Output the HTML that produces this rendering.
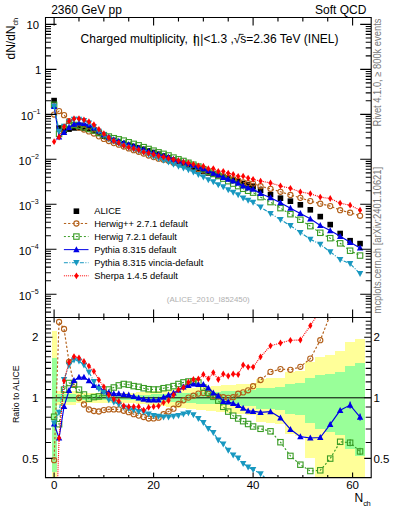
<!DOCTYPE html><html><head><meta charset="utf-8"><style>html,body{margin:0;padding:0;background:#fff;}svg{display:block;}text{font-family:"Liberation Sans",sans-serif;}</style></head><body>
<svg width="393" height="512" viewBox="0 0 393 512">
<rect x="0" y="0" width="393" height="512" fill="#fff"/>
<defs><clipPath id="cm"><rect x="45.5" y="17.5" width="325.7" height="300"/></clipPath>
<clipPath id="cr"><rect x="45.5" y="317.5" width="325.7" height="160.1"/></clipPath></defs>
<g clip-path="url(#cr)" shape-rendering="crispEdges">
<rect x="51.61" y="331.28" width="4.97" height="268.72" fill="#ffff99"/>
<rect x="56.59" y="390.75" width="4.98" height="14.72" fill="#ffff99"/>
<rect x="61.56" y="390.75" width="4.97" height="14.72" fill="#ffff99"/>
<rect x="66.54" y="390.75" width="4.98" height="14.72" fill="#ffff99"/>
<rect x="71.51" y="390.75" width="4.97" height="14.72" fill="#ffff99"/>
<rect x="76.49" y="393.04" width="4.98" height="9.8" fill="#ffff99"/>
<rect x="81.46" y="393.04" width="4.97" height="9.8" fill="#ffff99"/>
<rect x="86.44" y="393.04" width="4.97" height="9.8" fill="#ffff99"/>
<rect x="91.41" y="393.04" width="4.97" height="9.8" fill="#ffff99"/>
<rect x="96.39" y="393.04" width="4.98" height="9.8" fill="#ffff99"/>
<rect x="101.36" y="393.04" width="4.98" height="9.8" fill="#ffff99"/>
<rect x="106.34" y="393.04" width="4.97" height="9.8" fill="#ffff99"/>
<rect x="111.31" y="393.04" width="4.97" height="9.8" fill="#ffff99"/>
<rect x="116.29" y="393.04" width="4.97" height="9.8" fill="#ffff99"/>
<rect x="121.26" y="393.04" width="4.97" height="9.8" fill="#ffff99"/>
<rect x="126.24" y="393.04" width="4.98" height="9.8" fill="#ffff99"/>
<rect x="131.21" y="393.04" width="4.97" height="9.8" fill="#ffff99"/>
<rect x="136.19" y="392.28" width="4.97" height="11.42" fill="#ffff99"/>
<rect x="141.16" y="391.85" width="4.97" height="12.34" fill="#ffff99"/>
<rect x="146.14" y="391.42" width="4.97" height="13.26" fill="#ffff99"/>
<rect x="151.11" y="391" width="4.98" height="14.18" fill="#ffff99"/>
<rect x="156.09" y="390.57" width="4.97" height="15.1" fill="#ffff99"/>
<rect x="161.06" y="390.15" width="4.97" height="16.02" fill="#ffff99"/>
<rect x="166.04" y="389.74" width="4.97" height="16.95" fill="#ffff99"/>
<rect x="171.01" y="389.32" width="4.97" height="17.87" fill="#ffff99"/>
<rect x="175.99" y="388.91" width="4.98" height="18.79" fill="#ffff99"/>
<rect x="180.96" y="388.49" width="4.97" height="19.72" fill="#ffff99"/>
<rect x="185.94" y="388.08" width="4.98" height="20.65" fill="#ffff99"/>
<rect x="190.91" y="387.68" width="4.97" height="21.58" fill="#ffff99"/>
<rect x="195.89" y="387.27" width="4.97" height="22.5" fill="#ffff99"/>
<rect x="200.86" y="386.9" width="4.97" height="23.35" fill="#ffff99"/>
<rect x="205.84" y="386.54" width="4.97" height="24.19" fill="#ffff99"/>
<rect x="210.81" y="386.18" width="4.98" height="25.03" fill="#ffff99"/>
<rect x="215.79" y="385.82" width="4.97" height="25.87" fill="#ffff99"/>
<rect x="220.76" y="385.46" width="4.97" height="26.72" fill="#ffff99"/>
<rect x="225.74" y="385.1" width="4.97" height="27.57" fill="#ffff99"/>
<rect x="230.71" y="384.74" width="4.97" height="28.42" fill="#ffff99"/>
<rect x="235.69" y="384.39" width="4.98" height="29.26" fill="#ffff99"/>
<rect x="240.66" y="384.03" width="4.97" height="30.11" fill="#ffff99"/>
<rect x="245.64" y="383.68" width="4.97" height="30.97" fill="#ffff99"/>
<rect x="250.61" y="383.33" width="4.97" height="31.82" fill="#ffff99"/>
<rect x="255.59" y="378.99" width="9.95" height="42.8" fill="#ffff99"/>
<rect x="265.54" y="378.29" width="9.95" height="44.66" fill="#ffff99"/>
<rect x="275.49" y="377.59" width="9.95" height="46.53" fill="#ffff99"/>
<rect x="285.44" y="372.47" width="9.95" height="61.13" fill="#ffff99"/>
<rect x="295.39" y="371.17" width="9.95" height="65.1" fill="#ffff99"/>
<rect x="305.34" y="362.35" width="9.95" height="96.05" fill="#ffff99"/>
<rect x="315.29" y="356.71" width="9.95" height="121.2" fill="#ffff99"/>
<rect x="325.24" y="354.55" width="9.95" height="132.57" fill="#ffff99"/>
<rect x="335.19" y="351.41" width="9.95" height="151.65" fill="#ffff99"/>
<rect x="345.14" y="342.15" width="9.95" height="248.63" fill="#ffff99"/>
<rect x="355.09" y="338.52" width="9.95" height="365.85" fill="#ffff99"/>
<rect x="51.61" y="358.36" width="4.97" height="113.22" fill="#99ff99"/>
<rect x="56.59" y="394.2" width="4.98" height="7.35" fill="#99ff99"/>
<rect x="61.56" y="394.2" width="4.97" height="7.35" fill="#99ff99"/>
<rect x="66.54" y="394.2" width="4.98" height="7.35" fill="#99ff99"/>
<rect x="71.51" y="394.2" width="4.97" height="7.35" fill="#99ff99"/>
<rect x="76.49" y="395.39" width="4.98" height="4.9" fill="#99ff99"/>
<rect x="81.46" y="395.39" width="4.97" height="4.9" fill="#99ff99"/>
<rect x="86.44" y="395.39" width="4.97" height="4.9" fill="#99ff99"/>
<rect x="91.41" y="395.39" width="4.97" height="4.9" fill="#99ff99"/>
<rect x="96.39" y="395.39" width="4.98" height="4.9" fill="#99ff99"/>
<rect x="101.36" y="395.39" width="4.98" height="4.9" fill="#99ff99"/>
<rect x="106.34" y="395.39" width="4.97" height="4.9" fill="#99ff99"/>
<rect x="111.31" y="395.39" width="4.97" height="4.9" fill="#99ff99"/>
<rect x="116.29" y="395.39" width="4.97" height="4.9" fill="#99ff99"/>
<rect x="121.26" y="395.39" width="4.97" height="4.9" fill="#99ff99"/>
<rect x="126.24" y="395.39" width="4.98" height="4.9" fill="#99ff99"/>
<rect x="131.21" y="395.39" width="4.97" height="4.9" fill="#99ff99"/>
<rect x="136.19" y="394.99" width="4.97" height="5.7" fill="#99ff99"/>
<rect x="141.16" y="394.77" width="4.97" height="6.16" fill="#99ff99"/>
<rect x="146.14" y="394.55" width="4.97" height="6.62" fill="#99ff99"/>
<rect x="151.11" y="394.33" width="4.98" height="7.08" fill="#99ff99"/>
<rect x="156.09" y="394.11" width="4.97" height="7.54" fill="#99ff99"/>
<rect x="161.06" y="393.89" width="4.97" height="8" fill="#99ff99"/>
<rect x="166.04" y="393.68" width="4.97" height="8.45" fill="#99ff99"/>
<rect x="171.01" y="393.46" width="4.97" height="8.91" fill="#99ff99"/>
<rect x="175.99" y="393.24" width="4.98" height="9.37" fill="#99ff99"/>
<rect x="180.96" y="393.02" width="4.97" height="9.83" fill="#99ff99"/>
<rect x="185.94" y="392.81" width="4.98" height="10.29" fill="#99ff99"/>
<rect x="190.91" y="392.59" width="4.97" height="10.75" fill="#99ff99"/>
<rect x="195.89" y="392.38" width="4.97" height="11.21" fill="#99ff99"/>
<rect x="200.86" y="392.18" width="4.97" height="11.62" fill="#99ff99"/>
<rect x="205.84" y="391.99" width="4.97" height="12.04" fill="#99ff99"/>
<rect x="210.81" y="391.8" width="4.98" height="12.45" fill="#99ff99"/>
<rect x="215.79" y="391.6" width="4.97" height="12.87" fill="#99ff99"/>
<rect x="220.76" y="391.41" width="4.97" height="13.28" fill="#99ff99"/>
<rect x="225.74" y="391.22" width="4.97" height="13.7" fill="#99ff99"/>
<rect x="230.71" y="391.03" width="4.97" height="14.11" fill="#99ff99"/>
<rect x="235.69" y="390.84" width="4.98" height="14.53" fill="#99ff99"/>
<rect x="240.66" y="390.65" width="4.97" height="14.95" fill="#99ff99"/>
<rect x="245.64" y="390.46" width="4.97" height="15.36" fill="#99ff99"/>
<rect x="250.61" y="390.27" width="4.97" height="15.78" fill="#99ff99"/>
<rect x="255.59" y="387.89" width="9.95" height="21.08" fill="#99ff99"/>
<rect x="265.54" y="387.5" width="9.95" height="21.97" fill="#99ff99"/>
<rect x="275.49" y="387.11" width="9.95" height="22.86" fill="#99ff99"/>
<rect x="285.44" y="384.22" width="9.95" height="29.66" fill="#99ff99"/>
<rect x="295.39" y="383.48" width="9.95" height="31.46" fill="#99ff99"/>
<rect x="305.34" y="378.29" width="9.95" height="44.66" fill="#99ff99"/>
<rect x="315.29" y="374.86" width="9.95" height="54.12" fill="#99ff99"/>
<rect x="325.24" y="373.53" width="9.95" height="57.99" fill="#99ff99"/>
<rect x="335.19" y="371.56" width="9.95" height="63.9" fill="#99ff99"/>
<rect x="345.14" y="365.62" width="9.95" height="83.66" fill="#99ff99"/>
<rect x="355.09" y="363.23" width="9.95" height="92.59" fill="#99ff99"/>
</g>
<line x1="45.5" y1="397.8" x2="371.2" y2="397.8" stroke="#000" stroke-width="1"/>
<g clip-path="url(#cm)">
<rect x="51.3" y="97.8" width="5.6" height="5.6" fill="#000"/>
<rect x="56.28" y="125.2" width="5.6" height="5.6" fill="#000"/>
<rect x="61.25" y="127.7" width="5.6" height="5.6" fill="#000"/>
<rect x="66.23" y="126.3" width="5.6" height="5.6" fill="#000"/>
<rect x="71.2" y="125.1" width="5.6" height="5.6" fill="#000"/>
<rect x="76.17" y="124.8" width="5.6" height="5.6" fill="#000"/>
<rect x="81.15" y="125.2" width="5.6" height="5.6" fill="#000"/>
<rect x="86.12" y="126" width="5.6" height="5.6" fill="#000"/>
<rect x="91.1" y="127.8" width="5.6" height="5.6" fill="#000"/>
<rect x="96.08" y="130.5" width="5.6" height="5.6" fill="#000"/>
<rect x="101.05" y="133.4" width="5.6" height="5.6" fill="#000"/>
<rect x="106.02" y="135.6" width="5.6" height="5.6" fill="#000"/>
<rect x="111" y="137.7" width="5.6" height="5.6" fill="#000"/>
<rect x="115.98" y="139.3" width="5.6" height="5.6" fill="#000"/>
<rect x="120.95" y="140.9" width="5.6" height="5.6" fill="#000"/>
<rect x="125.92" y="142.4" width="5.6" height="5.6" fill="#000"/>
<rect x="130.9" y="143.7" width="5.6" height="5.6" fill="#000"/>
<rect x="135.87" y="145" width="5.6" height="5.6" fill="#000"/>
<rect x="140.85" y="146.5" width="5.6" height="5.6" fill="#000"/>
<rect x="145.82" y="148.1" width="5.6" height="5.6" fill="#000"/>
<rect x="150.8" y="149.7" width="5.6" height="5.6" fill="#000"/>
<rect x="155.77" y="151.4" width="5.6" height="5.6" fill="#000"/>
<rect x="160.75" y="153.2" width="5.6" height="5.6" fill="#000"/>
<rect x="165.72" y="155" width="5.6" height="5.6" fill="#000"/>
<rect x="170.7" y="157.4" width="5.6" height="5.6" fill="#000"/>
<rect x="175.67" y="159.6" width="5.6" height="5.6" fill="#000"/>
<rect x="180.65" y="161.6" width="5.6" height="5.6" fill="#000"/>
<rect x="185.62" y="163.6" width="5.6" height="5.6" fill="#000"/>
<rect x="190.6" y="165.6" width="5.6" height="5.6" fill="#000"/>
<rect x="195.57" y="167.2" width="5.6" height="5.6" fill="#000"/>
<rect x="200.55" y="168.7" width="5.6" height="5.6" fill="#000"/>
<rect x="205.52" y="170.1" width="5.6" height="5.6" fill="#000"/>
<rect x="210.5" y="171.4" width="5.6" height="5.6" fill="#000"/>
<rect x="215.47" y="172.6" width="5.6" height="5.6" fill="#000"/>
<rect x="220.45" y="173.8" width="5.6" height="5.6" fill="#000"/>
<rect x="225.42" y="175.3" width="5.6" height="5.6" fill="#000"/>
<rect x="230.4" y="176.8" width="5.6" height="5.6" fill="#000"/>
<rect x="235.37" y="178.7" width="5.6" height="5.6" fill="#000"/>
<rect x="240.35" y="180.7" width="5.6" height="5.6" fill="#000"/>
<rect x="245.32" y="182.1" width="5.6" height="5.6" fill="#000"/>
<rect x="250.3" y="183.4" width="5.6" height="5.6" fill="#000"/>
<rect x="257.76" y="187.4" width="5.6" height="5.6" fill="#000"/>
<rect x="267.71" y="191.8" width="5.6" height="5.6" fill="#000"/>
<rect x="277.66" y="195.4" width="5.6" height="5.6" fill="#000"/>
<rect x="287.61" y="198.4" width="5.6" height="5.6" fill="#000"/>
<rect x="297.56" y="202" width="5.6" height="5.6" fill="#000"/>
<rect x="307.51" y="207" width="5.6" height="5.6" fill="#000"/>
<rect x="317.46" y="213.8" width="5.6" height="5.6" fill="#000"/>
<rect x="327.41" y="221.8" width="5.6" height="5.6" fill="#000"/>
<rect x="337.36" y="230.7" width="5.6" height="5.6" fill="#000"/>
<rect x="347.31" y="237.9" width="5.6" height="5.6" fill="#000"/>
<rect x="357.26" y="240.8" width="5.6" height="5.6" fill="#000"/>
</g>
<polyline points="54.1,114.54 59.08,111.07 64.05,115.13 69.03,121.1 74,124.82 78.97,127.64 83.95,129.5 88.92,131.41 93.9,133.55 98.88,136.36 103.85,138.95 108.82,140.99 113.8,143.09 118.78,144.69 123.75,146.6 128.72,148.42 133.7,150.16 138.67,151.78 143.65,153.59 148.62,155.52 153.6,157.1 158.57,158.65 163.55,159.66 168.53,160.86 173.5,162.63 178.47,163.79 183.45,164.96 188.42,166.36 193.4,167.93 198.37,169.06 203.35,170.43 208.32,172.01 213.3,173.75 218.27,175.11 223.25,176.47 228.22,178.12 233.2,179.47 238.17,180.58 243.15,182.29 248.12,183.22 253.1,183.61 260.56,186.22 270.51,188.81 280.46,191.79 290.41,194.95 300.36,197.87 310.31,201.04 320.26,203.73 330.21,206.1 340.16,210.2 350.11,212.7 360.06,215.8" fill="none" stroke="#b3601a" stroke-width="1.15" stroke-dasharray="2.3,1.9" clip-path="url(#cm)"/>
<g clip-path="url(#cm)">
<circle cx="54.1" cy="114.54" r="2.6" fill="none" stroke="#b3601a" stroke-width="1.1"/>
<circle cx="59.08" cy="111.07" r="2.6" fill="none" stroke="#b3601a" stroke-width="1.1"/>
<circle cx="64.05" cy="115.13" r="2.6" fill="none" stroke="#b3601a" stroke-width="1.1"/>
<circle cx="69.03" cy="121.1" r="2.6" fill="none" stroke="#b3601a" stroke-width="1.1"/>
<circle cx="74" cy="124.82" r="2.6" fill="none" stroke="#b3601a" stroke-width="1.1"/>
<circle cx="78.97" cy="127.64" r="2.6" fill="none" stroke="#b3601a" stroke-width="1.1"/>
<circle cx="83.95" cy="129.5" r="2.6" fill="none" stroke="#b3601a" stroke-width="1.1"/>
<circle cx="88.92" cy="131.41" r="2.6" fill="none" stroke="#b3601a" stroke-width="1.1"/>
<circle cx="93.9" cy="133.55" r="2.6" fill="none" stroke="#b3601a" stroke-width="1.1"/>
<circle cx="98.88" cy="136.36" r="2.6" fill="none" stroke="#b3601a" stroke-width="1.1"/>
<circle cx="103.85" cy="138.95" r="2.6" fill="none" stroke="#b3601a" stroke-width="1.1"/>
<circle cx="108.82" cy="140.99" r="2.6" fill="none" stroke="#b3601a" stroke-width="1.1"/>
<circle cx="113.8" cy="143.09" r="2.6" fill="none" stroke="#b3601a" stroke-width="1.1"/>
<circle cx="118.78" cy="144.69" r="2.6" fill="none" stroke="#b3601a" stroke-width="1.1"/>
<circle cx="123.75" cy="146.6" r="2.6" fill="none" stroke="#b3601a" stroke-width="1.1"/>
<circle cx="128.72" cy="148.42" r="2.6" fill="none" stroke="#b3601a" stroke-width="1.1"/>
<circle cx="133.7" cy="150.16" r="2.6" fill="none" stroke="#b3601a" stroke-width="1.1"/>
<circle cx="138.67" cy="151.78" r="2.6" fill="none" stroke="#b3601a" stroke-width="1.1"/>
<circle cx="143.65" cy="153.59" r="2.6" fill="none" stroke="#b3601a" stroke-width="1.1"/>
<circle cx="148.62" cy="155.52" r="2.6" fill="none" stroke="#b3601a" stroke-width="1.1"/>
<circle cx="153.6" cy="157.1" r="2.6" fill="none" stroke="#b3601a" stroke-width="1.1"/>
<circle cx="158.57" cy="158.65" r="2.6" fill="none" stroke="#b3601a" stroke-width="1.1"/>
<circle cx="163.55" cy="159.66" r="2.6" fill="none" stroke="#b3601a" stroke-width="1.1"/>
<circle cx="168.53" cy="160.86" r="2.6" fill="none" stroke="#b3601a" stroke-width="1.1"/>
<circle cx="173.5" cy="162.63" r="2.6" fill="none" stroke="#b3601a" stroke-width="1.1"/>
<circle cx="178.47" cy="163.79" r="2.6" fill="none" stroke="#b3601a" stroke-width="1.1"/>
<circle cx="183.45" cy="164.96" r="2.6" fill="none" stroke="#b3601a" stroke-width="1.1"/>
<circle cx="188.42" cy="166.36" r="2.6" fill="none" stroke="#b3601a" stroke-width="1.1"/>
<circle cx="193.4" cy="167.93" r="2.6" fill="none" stroke="#b3601a" stroke-width="1.1"/>
<circle cx="198.37" cy="169.06" r="2.6" fill="none" stroke="#b3601a" stroke-width="1.1"/>
<circle cx="203.35" cy="170.43" r="2.6" fill="none" stroke="#b3601a" stroke-width="1.1"/>
<circle cx="208.32" cy="172.01" r="2.6" fill="none" stroke="#b3601a" stroke-width="1.1"/>
<circle cx="213.3" cy="173.75" r="2.6" fill="none" stroke="#b3601a" stroke-width="1.1"/>
<circle cx="218.27" cy="175.11" r="2.6" fill="none" stroke="#b3601a" stroke-width="1.1"/>
<circle cx="223.25" cy="176.47" r="2.6" fill="none" stroke="#b3601a" stroke-width="1.1"/>
<circle cx="228.22" cy="178.12" r="2.6" fill="none" stroke="#b3601a" stroke-width="1.1"/>
<circle cx="233.2" cy="179.47" r="2.6" fill="none" stroke="#b3601a" stroke-width="1.1"/>
<circle cx="238.17" cy="180.58" r="2.6" fill="none" stroke="#b3601a" stroke-width="1.1"/>
<circle cx="243.15" cy="182.29" r="2.6" fill="none" stroke="#b3601a" stroke-width="1.1"/>
<circle cx="248.12" cy="183.22" r="2.6" fill="none" stroke="#b3601a" stroke-width="1.1"/>
<circle cx="253.1" cy="183.61" r="2.6" fill="none" stroke="#b3601a" stroke-width="1.1"/>
<circle cx="260.56" cy="186.22" r="2.6" fill="none" stroke="#b3601a" stroke-width="1.1"/>
<circle cx="270.51" cy="188.81" r="2.6" fill="none" stroke="#b3601a" stroke-width="1.1"/>
<circle cx="280.46" cy="191.79" r="2.6" fill="none" stroke="#b3601a" stroke-width="1.1"/>
<circle cx="290.41" cy="194.95" r="2.6" fill="none" stroke="#b3601a" stroke-width="1.1"/>
<circle cx="300.36" cy="197.87" r="2.6" fill="none" stroke="#b3601a" stroke-width="1.1"/>
<circle cx="310.31" cy="201.04" r="2.6" fill="none" stroke="#b3601a" stroke-width="1.1"/>
<circle cx="320.26" cy="203.73" r="2.6" fill="none" stroke="#b3601a" stroke-width="1.1"/>
<circle cx="330.21" cy="206.1" r="2.6" fill="none" stroke="#b3601a" stroke-width="1.1"/>
<circle cx="340.16" cy="210.2" r="2.6" fill="none" stroke="#b3601a" stroke-width="1.1"/>
<circle cx="350.11" cy="212.7" r="2.6" fill="none" stroke="#b3601a" stroke-width="1.1"/>
<circle cx="360.06" cy="215.8" r="2.6" fill="none" stroke="#b3601a" stroke-width="1.1"/>
</g>
<polyline points="54.1,104.82 59.08,133.9 64.05,128.67 69.03,125.79 74,124.97 78.97,125.77 83.95,127.26 88.92,128.98 93.9,130.44 98.88,132.99 103.85,135.13 108.82,136.55 113.8,138.2 118.78,139.33 123.75,140.62 128.72,142.27 133.7,143.89 138.67,145.34 143.65,147.16 148.62,148.98 153.6,150.65 158.57,152.35 163.55,153.86 168.53,155.5 173.5,157.59 178.47,159.32 183.45,160.96 188.42,162.76 193.4,164.69 198.37,166.58 203.35,169.2 208.32,171.78 213.3,173.98 218.27,176.03 223.25,178.61 228.22,181.18 233.2,183.6 238.17,186.12 243.15,188.73 248.12,190.75 253.1,192.61 260.56,197.13 270.51,202.08 280.46,208.12 290.41,214.18 300.36,219.74 310.31,226.15 320.26,232.8 330.21,238.18 340.16,243.33 350.11,250.73 360.06,255.57" fill="none" stroke="#3a9c26" stroke-width="1.15" stroke-dasharray="2,2" clip-path="url(#cm)"/>
<g clip-path="url(#cm)">
<rect x="51.4" y="102.12" width="5.4" height="5.4" fill="none" stroke="#3a9c26" stroke-width="1.1"/>
<rect x="56.38" y="131.2" width="5.4" height="5.4" fill="none" stroke="#3a9c26" stroke-width="1.1"/>
<rect x="61.35" y="125.97" width="5.4" height="5.4" fill="none" stroke="#3a9c26" stroke-width="1.1"/>
<rect x="66.33" y="123.09" width="5.4" height="5.4" fill="none" stroke="#3a9c26" stroke-width="1.1"/>
<rect x="71.3" y="122.27" width="5.4" height="5.4" fill="none" stroke="#3a9c26" stroke-width="1.1"/>
<rect x="76.27" y="123.07" width="5.4" height="5.4" fill="none" stroke="#3a9c26" stroke-width="1.1"/>
<rect x="81.25" y="124.56" width="5.4" height="5.4" fill="none" stroke="#3a9c26" stroke-width="1.1"/>
<rect x="86.22" y="126.28" width="5.4" height="5.4" fill="none" stroke="#3a9c26" stroke-width="1.1"/>
<rect x="91.2" y="127.74" width="5.4" height="5.4" fill="none" stroke="#3a9c26" stroke-width="1.1"/>
<rect x="96.17" y="130.29" width="5.4" height="5.4" fill="none" stroke="#3a9c26" stroke-width="1.1"/>
<rect x="101.15" y="132.43" width="5.4" height="5.4" fill="none" stroke="#3a9c26" stroke-width="1.1"/>
<rect x="106.12" y="133.85" width="5.4" height="5.4" fill="none" stroke="#3a9c26" stroke-width="1.1"/>
<rect x="111.1" y="135.5" width="5.4" height="5.4" fill="none" stroke="#3a9c26" stroke-width="1.1"/>
<rect x="116.08" y="136.63" width="5.4" height="5.4" fill="none" stroke="#3a9c26" stroke-width="1.1"/>
<rect x="121.05" y="137.92" width="5.4" height="5.4" fill="none" stroke="#3a9c26" stroke-width="1.1"/>
<rect x="126.02" y="139.57" width="5.4" height="5.4" fill="none" stroke="#3a9c26" stroke-width="1.1"/>
<rect x="131" y="141.19" width="5.4" height="5.4" fill="none" stroke="#3a9c26" stroke-width="1.1"/>
<rect x="135.97" y="142.64" width="5.4" height="5.4" fill="none" stroke="#3a9c26" stroke-width="1.1"/>
<rect x="140.95" y="144.46" width="5.4" height="5.4" fill="none" stroke="#3a9c26" stroke-width="1.1"/>
<rect x="145.93" y="146.28" width="5.4" height="5.4" fill="none" stroke="#3a9c26" stroke-width="1.1"/>
<rect x="150.9" y="147.95" width="5.4" height="5.4" fill="none" stroke="#3a9c26" stroke-width="1.1"/>
<rect x="155.88" y="149.65" width="5.4" height="5.4" fill="none" stroke="#3a9c26" stroke-width="1.1"/>
<rect x="160.85" y="151.16" width="5.4" height="5.4" fill="none" stroke="#3a9c26" stroke-width="1.1"/>
<rect x="165.83" y="152.8" width="5.4" height="5.4" fill="none" stroke="#3a9c26" stroke-width="1.1"/>
<rect x="170.8" y="154.89" width="5.4" height="5.4" fill="none" stroke="#3a9c26" stroke-width="1.1"/>
<rect x="175.78" y="156.62" width="5.4" height="5.4" fill="none" stroke="#3a9c26" stroke-width="1.1"/>
<rect x="180.75" y="158.26" width="5.4" height="5.4" fill="none" stroke="#3a9c26" stroke-width="1.1"/>
<rect x="185.72" y="160.06" width="5.4" height="5.4" fill="none" stroke="#3a9c26" stroke-width="1.1"/>
<rect x="190.7" y="161.99" width="5.4" height="5.4" fill="none" stroke="#3a9c26" stroke-width="1.1"/>
<rect x="195.67" y="163.88" width="5.4" height="5.4" fill="none" stroke="#3a9c26" stroke-width="1.1"/>
<rect x="200.65" y="166.5" width="5.4" height="5.4" fill="none" stroke="#3a9c26" stroke-width="1.1"/>
<rect x="205.62" y="169.08" width="5.4" height="5.4" fill="none" stroke="#3a9c26" stroke-width="1.1"/>
<rect x="210.6" y="171.28" width="5.4" height="5.4" fill="none" stroke="#3a9c26" stroke-width="1.1"/>
<rect x="215.57" y="173.33" width="5.4" height="5.4" fill="none" stroke="#3a9c26" stroke-width="1.1"/>
<rect x="220.55" y="175.91" width="5.4" height="5.4" fill="none" stroke="#3a9c26" stroke-width="1.1"/>
<rect x="225.53" y="178.48" width="5.4" height="5.4" fill="none" stroke="#3a9c26" stroke-width="1.1"/>
<rect x="230.5" y="180.9" width="5.4" height="5.4" fill="none" stroke="#3a9c26" stroke-width="1.1"/>
<rect x="235.47" y="183.42" width="5.4" height="5.4" fill="none" stroke="#3a9c26" stroke-width="1.1"/>
<rect x="240.45" y="186.03" width="5.4" height="5.4" fill="none" stroke="#3a9c26" stroke-width="1.1"/>
<rect x="245.42" y="188.05" width="5.4" height="5.4" fill="none" stroke="#3a9c26" stroke-width="1.1"/>
<rect x="250.4" y="189.91" width="5.4" height="5.4" fill="none" stroke="#3a9c26" stroke-width="1.1"/>
<rect x="257.86" y="194.43" width="5.4" height="5.4" fill="none" stroke="#3a9c26" stroke-width="1.1"/>
<rect x="267.81" y="199.38" width="5.4" height="5.4" fill="none" stroke="#3a9c26" stroke-width="1.1"/>
<rect x="277.76" y="205.42" width="5.4" height="5.4" fill="none" stroke="#3a9c26" stroke-width="1.1"/>
<rect x="287.71" y="211.48" width="5.4" height="5.4" fill="none" stroke="#3a9c26" stroke-width="1.1"/>
<rect x="297.66" y="217.04" width="5.4" height="5.4" fill="none" stroke="#3a9c26" stroke-width="1.1"/>
<rect x="307.61" y="223.45" width="5.4" height="5.4" fill="none" stroke="#3a9c26" stroke-width="1.1"/>
<rect x="317.56" y="230.1" width="5.4" height="5.4" fill="none" stroke="#3a9c26" stroke-width="1.1"/>
<rect x="327.51" y="235.48" width="5.4" height="5.4" fill="none" stroke="#3a9c26" stroke-width="1.1"/>
<rect x="337.46" y="240.63" width="5.4" height="5.4" fill="none" stroke="#3a9c26" stroke-width="1.1"/>
<rect x="347.41" y="248.03" width="5.4" height="5.4" fill="none" stroke="#3a9c26" stroke-width="1.1"/>
<rect x="357.36" y="252.87" width="5.4" height="5.4" fill="none" stroke="#3a9c26" stroke-width="1.1"/>
</g>
<polyline points="54.1,106.45 59.08,136.98 64.05,132.44 69.03,127.47 74,124.04 78.97,123 83.95,123.4 88.92,124.96 93.9,127.83 98.88,130.84 103.85,134.68 108.82,137.17 113.8,139.58 118.78,141.18 123.75,142.92 128.72,144.57 133.7,146.19 138.67,147.8 143.65,149.59 148.62,151.35 153.6,152.95 158.57,154.65 163.55,155.84 168.53,157.17 173.5,159.13 178.47,160.7 183.45,161.97 188.42,163.63 193.4,165.27 198.37,166.98 203.35,168.53 208.32,170.71 213.3,173.08 218.27,174.95 223.25,177.38 228.22,179.04 233.2,180.85 238.17,183.2 243.15,185.82 248.12,187.83 253.1,189.22 260.56,193.44 270.51,197.68 280.46,202.67 290.41,208.24 300.36,213.47 310.31,218.78 320.26,225.47 330.21,230.54 340.16,236.29 350.11,242.33 360.06,247.91" fill="none" stroke="#0000e6" stroke-width="1.15" clip-path="url(#cm)"/>
<g clip-path="url(#cm)">
<path d="M54.1 103.05L57.3 109.05L50.9 109.05Z" fill="#0000e6"/>
<path d="M59.08 133.58L62.28 139.58L55.88 139.58Z" fill="#0000e6"/>
<path d="M64.05 129.04L67.25 135.04L60.85 135.04Z" fill="#0000e6"/>
<path d="M69.03 124.07L72.23 130.07L65.83 130.07Z" fill="#0000e6"/>
<path d="M74 120.64L77.2 126.64L70.8 126.64Z" fill="#0000e6"/>
<path d="M78.97 119.6L82.17 125.6L75.77 125.6Z" fill="#0000e6"/>
<path d="M83.95 120L87.15 126L80.75 126Z" fill="#0000e6"/>
<path d="M88.92 121.56L92.12 127.56L85.72 127.56Z" fill="#0000e6"/>
<path d="M93.9 124.43L97.1 130.43L90.7 130.43Z" fill="#0000e6"/>
<path d="M98.88 127.44L102.08 133.44L95.67 133.44Z" fill="#0000e6"/>
<path d="M103.85 131.28L107.05 137.28L100.65 137.28Z" fill="#0000e6"/>
<path d="M108.82 133.77L112.02 139.77L105.62 139.77Z" fill="#0000e6"/>
<path d="M113.8 136.18L117 142.18L110.6 142.18Z" fill="#0000e6"/>
<path d="M118.78 137.78L121.98 143.78L115.58 143.78Z" fill="#0000e6"/>
<path d="M123.75 139.52L126.95 145.52L120.55 145.52Z" fill="#0000e6"/>
<path d="M128.72 141.17L131.92 147.17L125.52 147.17Z" fill="#0000e6"/>
<path d="M133.7 142.79L136.9 148.79L130.5 148.79Z" fill="#0000e6"/>
<path d="M138.67 144.4L141.87 150.4L135.47 150.4Z" fill="#0000e6"/>
<path d="M143.65 146.19L146.85 152.19L140.45 152.19Z" fill="#0000e6"/>
<path d="M148.62 147.95L151.82 153.95L145.43 153.95Z" fill="#0000e6"/>
<path d="M153.6 149.55L156.8 155.55L150.4 155.55Z" fill="#0000e6"/>
<path d="M158.57 151.25L161.77 157.25L155.38 157.25Z" fill="#0000e6"/>
<path d="M163.55 152.44L166.75 158.44L160.35 158.44Z" fill="#0000e6"/>
<path d="M168.53 153.77L171.72 159.77L165.33 159.77Z" fill="#0000e6"/>
<path d="M173.5 155.73L176.7 161.73L170.3 161.73Z" fill="#0000e6"/>
<path d="M178.47 157.3L181.67 163.3L175.28 163.3Z" fill="#0000e6"/>
<path d="M183.45 158.57L186.65 164.57L180.25 164.57Z" fill="#0000e6"/>
<path d="M188.42 160.23L191.62 166.23L185.22 166.23Z" fill="#0000e6"/>
<path d="M193.4 161.87L196.6 167.87L190.2 167.87Z" fill="#0000e6"/>
<path d="M198.37 163.58L201.57 169.58L195.17 169.58Z" fill="#0000e6"/>
<path d="M203.35 165.13L206.55 171.13L200.15 171.13Z" fill="#0000e6"/>
<path d="M208.32 167.31L211.52 173.31L205.12 173.31Z" fill="#0000e6"/>
<path d="M213.3 169.68L216.5 175.68L210.1 175.68Z" fill="#0000e6"/>
<path d="M218.27 171.55L221.47 177.55L215.07 177.55Z" fill="#0000e6"/>
<path d="M223.25 173.98L226.45 179.98L220.05 179.98Z" fill="#0000e6"/>
<path d="M228.22 175.64L231.42 181.64L225.03 181.64Z" fill="#0000e6"/>
<path d="M233.2 177.45L236.4 183.45L230 183.45Z" fill="#0000e6"/>
<path d="M238.17 179.8L241.37 185.8L234.97 185.8Z" fill="#0000e6"/>
<path d="M243.15 182.42L246.35 188.42L239.95 188.42Z" fill="#0000e6"/>
<path d="M248.12 184.43L251.32 190.43L244.92 190.43Z" fill="#0000e6"/>
<path d="M253.1 185.82L256.3 191.82L249.9 191.82Z" fill="#0000e6"/>
<path d="M260.56 190.04L263.76 196.04L257.36 196.04Z" fill="#0000e6"/>
<path d="M270.51 194.28L273.71 200.28L267.31 200.28Z" fill="#0000e6"/>
<path d="M280.46 199.27L283.66 205.27L277.26 205.27Z" fill="#0000e6"/>
<path d="M290.41 204.84L293.61 210.84L287.21 210.84Z" fill="#0000e6"/>
<path d="M300.36 210.07L303.56 216.07L297.16 216.07Z" fill="#0000e6"/>
<path d="M310.31 215.38L313.51 221.38L307.11 221.38Z" fill="#0000e6"/>
<path d="M320.26 222.07L323.46 228.07L317.06 228.07Z" fill="#0000e6"/>
<path d="M330.21 227.14L333.41 233.14L327.01 233.14Z" fill="#0000e6"/>
<path d="M340.16 232.89L343.36 238.89L336.96 238.89Z" fill="#0000e6"/>
<path d="M350.11 238.93L353.31 244.93L346.91 244.93Z" fill="#0000e6"/>
<path d="M360.06 244.51L363.26 250.51L356.86 250.51Z" fill="#0000e6"/>
</g>
<polyline points="54.1,106.23 59.08,131.26 64.05,126.43 69.03,121.77 74,119.46 78.97,119.4 83.95,120.67 88.92,123.04 93.9,126.96 98.88,131.29 103.85,134.97 108.82,138.85 113.8,141.44 118.78,143.55 123.75,145.84 128.72,147.63 133.7,149.25 138.67,150.86 143.65,152.52 148.62,154.56 153.6,156.48 158.57,158.33 163.55,160.29 168.53,162.09 173.5,164.33 178.47,166.38 183.45,168.06 188.42,169.77 193.4,172.22 198.37,174.67 203.35,177.04 208.32,179.76 213.3,181.95 218.27,184.85 223.25,186.97 228.22,189.85 233.2,192.42 238.17,194.95 243.15,198.18 248.12,200.4 253.1,202.24 260.56,207.18 270.51,213.5 280.46,219.6 290.41,225.7 300.36,232.5 310.31,239.3 320.26,244.3 330.21,251.9 340.16,259.5 350.11,263.7 360.06,273.7" fill="none" stroke="#1898c0" stroke-width="1.15" stroke-dasharray="4,1.5,1,1.5" clip-path="url(#cm)"/>
<g clip-path="url(#cm)">
<path d="M54.1 109.63L57.3 103.63L50.9 103.63Z" fill="#1898c0"/>
<path d="M59.08 134.66L62.28 128.66L55.88 128.66Z" fill="#1898c0"/>
<path d="M64.05 129.83L67.25 123.83L60.85 123.83Z" fill="#1898c0"/>
<path d="M69.03 125.17L72.23 119.17L65.83 119.17Z" fill="#1898c0"/>
<path d="M74 122.86L77.2 116.86L70.8 116.86Z" fill="#1898c0"/>
<path d="M78.97 122.8L82.17 116.8L75.77 116.8Z" fill="#1898c0"/>
<path d="M83.95 124.07L87.15 118.07L80.75 118.07Z" fill="#1898c0"/>
<path d="M88.92 126.44L92.12 120.44L85.72 120.44Z" fill="#1898c0"/>
<path d="M93.9 130.36L97.1 124.36L90.7 124.36Z" fill="#1898c0"/>
<path d="M98.88 134.69L102.08 128.69L95.67 128.69Z" fill="#1898c0"/>
<path d="M103.85 138.37L107.05 132.37L100.65 132.37Z" fill="#1898c0"/>
<path d="M108.82 142.25L112.02 136.25L105.62 136.25Z" fill="#1898c0"/>
<path d="M113.8 144.84L117 138.84L110.6 138.84Z" fill="#1898c0"/>
<path d="M118.78 146.95L121.98 140.95L115.58 140.95Z" fill="#1898c0"/>
<path d="M123.75 149.24L126.95 143.24L120.55 143.24Z" fill="#1898c0"/>
<path d="M128.72 151.03L131.92 145.03L125.52 145.03Z" fill="#1898c0"/>
<path d="M133.7 152.65L136.9 146.65L130.5 146.65Z" fill="#1898c0"/>
<path d="M138.67 154.26L141.87 148.26L135.47 148.26Z" fill="#1898c0"/>
<path d="M143.65 155.92L146.85 149.92L140.45 149.92Z" fill="#1898c0"/>
<path d="M148.62 157.96L151.82 151.96L145.43 151.96Z" fill="#1898c0"/>
<path d="M153.6 159.88L156.8 153.88L150.4 153.88Z" fill="#1898c0"/>
<path d="M158.57 161.73L161.77 155.73L155.38 155.73Z" fill="#1898c0"/>
<path d="M163.55 163.69L166.75 157.69L160.35 157.69Z" fill="#1898c0"/>
<path d="M168.53 165.49L171.72 159.49L165.33 159.49Z" fill="#1898c0"/>
<path d="M173.5 167.73L176.7 161.73L170.3 161.73Z" fill="#1898c0"/>
<path d="M178.47 169.78L181.67 163.78L175.28 163.78Z" fill="#1898c0"/>
<path d="M183.45 171.46L186.65 165.46L180.25 165.46Z" fill="#1898c0"/>
<path d="M188.42 173.17L191.62 167.17L185.22 167.17Z" fill="#1898c0"/>
<path d="M193.4 175.62L196.6 169.62L190.2 169.62Z" fill="#1898c0"/>
<path d="M198.37 178.07L201.57 172.07L195.17 172.07Z" fill="#1898c0"/>
<path d="M203.35 180.44L206.55 174.44L200.15 174.44Z" fill="#1898c0"/>
<path d="M208.32 183.16L211.52 177.16L205.12 177.16Z" fill="#1898c0"/>
<path d="M213.3 185.35L216.5 179.35L210.1 179.35Z" fill="#1898c0"/>
<path d="M218.27 188.25L221.47 182.25L215.07 182.25Z" fill="#1898c0"/>
<path d="M223.25 190.37L226.45 184.37L220.05 184.37Z" fill="#1898c0"/>
<path d="M228.22 193.25L231.42 187.25L225.03 187.25Z" fill="#1898c0"/>
<path d="M233.2 195.82L236.4 189.82L230 189.82Z" fill="#1898c0"/>
<path d="M238.17 198.35L241.37 192.35L234.97 192.35Z" fill="#1898c0"/>
<path d="M243.15 201.58L246.35 195.58L239.95 195.58Z" fill="#1898c0"/>
<path d="M248.12 203.8L251.32 197.8L244.92 197.8Z" fill="#1898c0"/>
<path d="M253.1 205.64L256.3 199.64L249.9 199.64Z" fill="#1898c0"/>
<path d="M260.56 210.58L263.76 204.58L257.36 204.58Z" fill="#1898c0"/>
<path d="M270.51 216.9L273.71 210.9L267.31 210.9Z" fill="#1898c0"/>
<path d="M280.46 223L283.66 217L277.26 217Z" fill="#1898c0"/>
<path d="M290.41 229.1L293.61 223.1L287.21 223.1Z" fill="#1898c0"/>
<path d="M300.36 235.9L303.56 229.9L297.16 229.9Z" fill="#1898c0"/>
<path d="M310.31 242.7L313.51 236.7L307.11 236.7Z" fill="#1898c0"/>
<path d="M320.26 247.7L323.46 241.7L317.06 241.7Z" fill="#1898c0"/>
<path d="M330.21 255.3L333.41 249.3L327.01 249.3Z" fill="#1898c0"/>
<path d="M340.16 262.9L343.36 256.9L336.96 256.9Z" fill="#1898c0"/>
<path d="M350.11 267.1L353.31 261.1L346.91 261.1Z" fill="#1898c0"/>
<path d="M360.06 277.1L363.26 271.1L356.86 271.1Z" fill="#1898c0"/>
</g>
<polyline points="54.1,141.7 59.08,137 64.05,126.7 69.03,121.17 74,118.7 78.97,118.66 83.95,119.87 88.92,121.72 93.9,124.68 98.88,129.3 103.85,133.74 108.82,137.77 113.8,140.79 118.78,142.86 123.75,145.53 128.72,147.19 133.7,148.49 138.67,149.79 143.65,152.05 148.62,153.04 153.6,154.49 158.57,156.03 163.55,157.07 168.53,158.4 173.5,159.57 178.47,160.59 183.45,162.14 188.42,162.92 193.4,164.31 198.37,165.8 203.35,166.27 208.32,168.66 213.3,168.57 218.27,171.31 223.25,171.28 228.22,173.23 233.2,174.28 238.17,176.32 243.15,176.17 248.12,178.04 253.1,179.34 260.56,181.04 270.51,182.98 280.46,185.96 290.41,188.36 300.36,191.89 310.31,193.69 320.26,197.1 330.21,198.5 340.16,203.2 350.11,205.2 360.06,210.2" fill="none" stroke="#ff0000" stroke-width="1.15" stroke-dasharray="1,1" clip-path="url(#cm)"/>
<g clip-path="url(#cm)">
<path d="M54.1 138.3L56.2 141.7L54.1 145.1L52 141.7Z" fill="#ff0000"/>
<path d="M59.08 133.6L61.18 137L59.08 140.4L56.98 137Z" fill="#ff0000"/>
<path d="M64.05 123.3L66.15 126.7L64.05 130.1L61.95 126.7Z" fill="#ff0000"/>
<path d="M69.03 117.77L71.12 121.17L69.03 124.57L66.93 121.17Z" fill="#ff0000"/>
<path d="M74 115.3L76.1 118.7L74 122.1L71.9 118.7Z" fill="#ff0000"/>
<path d="M78.97 115.26L81.07 118.66L78.97 122.06L76.88 118.66Z" fill="#ff0000"/>
<path d="M83.95 116.47L86.05 119.87L83.95 123.27L81.85 119.87Z" fill="#ff0000"/>
<path d="M88.92 118.32L91.02 121.72L88.92 125.12L86.83 121.72Z" fill="#ff0000"/>
<path d="M93.9 121.28L96 124.68L93.9 128.08L91.8 124.68Z" fill="#ff0000"/>
<path d="M98.88 125.9L100.97 129.3L98.88 132.7L96.78 129.3Z" fill="#ff0000"/>
<path d="M103.85 130.34L105.95 133.74L103.85 137.14L101.75 133.74Z" fill="#ff0000"/>
<path d="M108.82 134.37L110.92 137.77L108.82 141.17L106.72 137.77Z" fill="#ff0000"/>
<path d="M113.8 137.39L115.9 140.79L113.8 144.19L111.7 140.79Z" fill="#ff0000"/>
<path d="M118.78 139.46L120.88 142.86L118.78 146.26L116.68 142.86Z" fill="#ff0000"/>
<path d="M123.75 142.13L125.85 145.53L123.75 148.93L121.65 145.53Z" fill="#ff0000"/>
<path d="M128.72 143.79L130.82 147.19L128.72 150.59L126.62 147.19Z" fill="#ff0000"/>
<path d="M133.7 145.09L135.8 148.49L133.7 151.89L131.6 148.49Z" fill="#ff0000"/>
<path d="M138.67 146.39L140.77 149.79L138.67 153.19L136.57 149.79Z" fill="#ff0000"/>
<path d="M143.65 148.65L145.75 152.05L143.65 155.45L141.55 152.05Z" fill="#ff0000"/>
<path d="M148.62 149.64L150.72 153.04L148.62 156.44L146.53 153.04Z" fill="#ff0000"/>
<path d="M153.6 151.09L155.7 154.49L153.6 157.89L151.5 154.49Z" fill="#ff0000"/>
<path d="M158.57 152.63L160.67 156.03L158.57 159.43L156.47 156.03Z" fill="#ff0000"/>
<path d="M163.55 153.67L165.65 157.07L163.55 160.47L161.45 157.07Z" fill="#ff0000"/>
<path d="M168.53 155L170.62 158.4L168.53 161.8L166.43 158.4Z" fill="#ff0000"/>
<path d="M173.5 156.17L175.6 159.57L173.5 162.97L171.4 159.57Z" fill="#ff0000"/>
<path d="M178.47 157.19L180.57 160.59L178.47 163.99L176.38 160.59Z" fill="#ff0000"/>
<path d="M183.45 158.74L185.55 162.14L183.45 165.54L181.35 162.14Z" fill="#ff0000"/>
<path d="M188.42 159.52L190.52 162.92L188.42 166.32L186.32 162.92Z" fill="#ff0000"/>
<path d="M193.4 160.91L195.5 164.31L193.4 167.71L191.3 164.31Z" fill="#ff0000"/>
<path d="M198.37 162.4L200.47 165.8L198.37 169.2L196.27 165.8Z" fill="#ff0000"/>
<path d="M203.35 162.87L205.45 166.27L203.35 169.67L201.25 166.27Z" fill="#ff0000"/>
<path d="M208.32 165.26L210.42 168.66L208.32 172.06L206.22 168.66Z" fill="#ff0000"/>
<path d="M213.3 165.17L215.4 168.57L213.3 171.97L211.2 168.57Z" fill="#ff0000"/>
<path d="M218.27 167.91L220.37 171.31L218.27 174.71L216.17 171.31Z" fill="#ff0000"/>
<path d="M223.25 167.88L225.35 171.28L223.25 174.68L221.15 171.28Z" fill="#ff0000"/>
<path d="M228.22 169.83L230.32 173.23L228.22 176.63L226.12 173.23Z" fill="#ff0000"/>
<path d="M233.2 170.88L235.3 174.28L233.2 177.68L231.1 174.28Z" fill="#ff0000"/>
<path d="M238.17 172.92L240.27 176.32L238.17 179.72L236.07 176.32Z" fill="#ff0000"/>
<path d="M243.15 172.77L245.25 176.17L243.15 179.57L241.05 176.17Z" fill="#ff0000"/>
<path d="M248.12 174.64L250.22 178.04L248.12 181.44L246.02 178.04Z" fill="#ff0000"/>
<path d="M253.1 175.94L255.2 179.34L253.1 182.74L251 179.34Z" fill="#ff0000"/>
<path d="M260.56 177.64L262.66 181.04L260.56 184.44L258.46 181.04Z" fill="#ff0000"/>
<path d="M270.51 179.58L272.61 182.98L270.51 186.38L268.41 182.98Z" fill="#ff0000"/>
<path d="M280.46 182.56L282.56 185.96L280.46 189.36L278.36 185.96Z" fill="#ff0000"/>
<path d="M290.41 184.96L292.51 188.36L290.41 191.76L288.31 188.36Z" fill="#ff0000"/>
<path d="M300.36 188.49L302.46 191.89L300.36 195.29L298.26 191.89Z" fill="#ff0000"/>
<path d="M310.31 190.29L312.41 193.69L310.31 197.09L308.21 193.69Z" fill="#ff0000"/>
<path d="M320.26 193.7L322.36 197.1L320.26 200.5L318.16 197.1Z" fill="#ff0000"/>
<path d="M330.21 195.1L332.31 198.5L330.21 201.9L328.11 198.5Z" fill="#ff0000"/>
<path d="M340.16 199.8L342.26 203.2L340.16 206.6L338.06 203.2Z" fill="#ff0000"/>
<path d="M350.11 201.8L352.21 205.2L350.11 208.6L348.01 205.2Z" fill="#ff0000"/>
<path d="M360.06 206.8L362.16 210.2L360.06 213.6L357.96 210.2Z" fill="#ff0000"/>
</g>
<polyline points="54.1,460.2 59.08,322 64.05,329 69.03,362 74,384 78.97,398 83.95,404.5 88.92,409.5 93.9,411 98.88,411.5 103.85,410.1 108.82,409.4 113.8,409.4 118.78,409.4 123.75,410.8 128.72,412.2 133.7,414.2 138.67,415.6 143.65,417 148.62,418.5 153.6,418.4 158.57,417.7 163.55,414.2 168.53,411.5 173.5,408.7 178.47,404 183.45,400.3 188.42,397.6 193.4,395.7 198.37,393.6 203.35,393 208.32,393.8 213.3,395.8 218.27,396.5 223.25,397.2 228.22,397.9 233.2,397.2 238.17,393.7 243.15,392.4 248.12,390.3 253.1,386.2 260.56,380 270.51,371.9 280.46,369.1 290.41,369.8 300.36,366.8 310.31,358.6 320.26,340.2 330.21,315 340.16,293.5 350.11,272.46 360.06,273.35" fill="none" stroke="#b3601a" stroke-width="1.15" stroke-dasharray="2.3,1.9" clip-path="url(#cr)"/>
<g clip-path="url(#cr)">
<path d="M350.11 268.86V276.06M360.06 269.75V276.95" stroke="#b3601a" stroke-width="1"/>
<circle cx="54.1" cy="460.2" r="2.6" fill="none" stroke="#b3601a" stroke-width="1.1"/>
<circle cx="59.08" cy="322" r="2.6" fill="none" stroke="#b3601a" stroke-width="1.1"/>
<circle cx="64.05" cy="329" r="2.6" fill="none" stroke="#b3601a" stroke-width="1.1"/>
<circle cx="69.03" cy="362" r="2.6" fill="none" stroke="#b3601a" stroke-width="1.1"/>
<circle cx="74" cy="384" r="2.6" fill="none" stroke="#b3601a" stroke-width="1.1"/>
<circle cx="78.97" cy="398" r="2.6" fill="none" stroke="#b3601a" stroke-width="1.1"/>
<circle cx="83.95" cy="404.5" r="2.6" fill="none" stroke="#b3601a" stroke-width="1.1"/>
<circle cx="88.92" cy="409.5" r="2.6" fill="none" stroke="#b3601a" stroke-width="1.1"/>
<circle cx="93.9" cy="411" r="2.6" fill="none" stroke="#b3601a" stroke-width="1.1"/>
<circle cx="98.88" cy="411.5" r="2.6" fill="none" stroke="#b3601a" stroke-width="1.1"/>
<circle cx="103.85" cy="410.1" r="2.6" fill="none" stroke="#b3601a" stroke-width="1.1"/>
<circle cx="108.82" cy="409.4" r="2.6" fill="none" stroke="#b3601a" stroke-width="1.1"/>
<circle cx="113.8" cy="409.4" r="2.6" fill="none" stroke="#b3601a" stroke-width="1.1"/>
<circle cx="118.78" cy="409.4" r="2.6" fill="none" stroke="#b3601a" stroke-width="1.1"/>
<circle cx="123.75" cy="410.8" r="2.6" fill="none" stroke="#b3601a" stroke-width="1.1"/>
<circle cx="128.72" cy="412.2" r="2.6" fill="none" stroke="#b3601a" stroke-width="1.1"/>
<circle cx="133.7" cy="414.2" r="2.6" fill="none" stroke="#b3601a" stroke-width="1.1"/>
<circle cx="138.67" cy="415.6" r="2.6" fill="none" stroke="#b3601a" stroke-width="1.1"/>
<circle cx="143.65" cy="417" r="2.6" fill="none" stroke="#b3601a" stroke-width="1.1"/>
<circle cx="148.62" cy="418.5" r="2.6" fill="none" stroke="#b3601a" stroke-width="1.1"/>
<circle cx="153.6" cy="418.4" r="2.6" fill="none" stroke="#b3601a" stroke-width="1.1"/>
<circle cx="158.57" cy="417.7" r="2.6" fill="none" stroke="#b3601a" stroke-width="1.1"/>
<circle cx="163.55" cy="414.2" r="2.6" fill="none" stroke="#b3601a" stroke-width="1.1"/>
<circle cx="168.53" cy="411.5" r="2.6" fill="none" stroke="#b3601a" stroke-width="1.1"/>
<circle cx="173.5" cy="408.7" r="2.6" fill="none" stroke="#b3601a" stroke-width="1.1"/>
<circle cx="178.47" cy="404" r="2.6" fill="none" stroke="#b3601a" stroke-width="1.1"/>
<circle cx="183.45" cy="400.3" r="2.6" fill="none" stroke="#b3601a" stroke-width="1.1"/>
<circle cx="188.42" cy="397.6" r="2.6" fill="none" stroke="#b3601a" stroke-width="1.1"/>
<circle cx="193.4" cy="395.7" r="2.6" fill="none" stroke="#b3601a" stroke-width="1.1"/>
<circle cx="198.37" cy="393.6" r="2.6" fill="none" stroke="#b3601a" stroke-width="1.1"/>
<circle cx="203.35" cy="393" r="2.6" fill="none" stroke="#b3601a" stroke-width="1.1"/>
<circle cx="208.32" cy="393.8" r="2.6" fill="none" stroke="#b3601a" stroke-width="1.1"/>
<circle cx="213.3" cy="395.8" r="2.6" fill="none" stroke="#b3601a" stroke-width="1.1"/>
<circle cx="218.27" cy="396.5" r="2.6" fill="none" stroke="#b3601a" stroke-width="1.1"/>
<circle cx="223.25" cy="397.2" r="2.6" fill="none" stroke="#b3601a" stroke-width="1.1"/>
<circle cx="228.22" cy="397.9" r="2.6" fill="none" stroke="#b3601a" stroke-width="1.1"/>
<circle cx="233.2" cy="397.2" r="2.6" fill="none" stroke="#b3601a" stroke-width="1.1"/>
<circle cx="238.17" cy="393.7" r="2.6" fill="none" stroke="#b3601a" stroke-width="1.1"/>
<circle cx="243.15" cy="392.4" r="2.6" fill="none" stroke="#b3601a" stroke-width="1.1"/>
<circle cx="248.12" cy="390.3" r="2.6" fill="none" stroke="#b3601a" stroke-width="1.1"/>
<circle cx="253.1" cy="386.2" r="2.6" fill="none" stroke="#b3601a" stroke-width="1.1"/>
<circle cx="260.56" cy="380" r="2.6" fill="none" stroke="#b3601a" stroke-width="1.1"/>
<circle cx="270.51" cy="371.9" r="2.6" fill="none" stroke="#b3601a" stroke-width="1.1"/>
<circle cx="280.46" cy="369.1" r="2.6" fill="none" stroke="#b3601a" stroke-width="1.1"/>
<circle cx="290.41" cy="369.8" r="2.6" fill="none" stroke="#b3601a" stroke-width="1.1"/>
<circle cx="300.36" cy="366.8" r="2.6" fill="none" stroke="#b3601a" stroke-width="1.1"/>
<circle cx="310.31" cy="358.6" r="2.6" fill="none" stroke="#b3601a" stroke-width="1.1"/>
<circle cx="320.26" cy="340.2" r="2.6" fill="none" stroke="#b3601a" stroke-width="1.1"/>
<circle cx="330.21" cy="315" r="2.6" fill="none" stroke="#b3601a" stroke-width="1.1"/>
<circle cx="340.16" cy="293.5" r="2.6" fill="none" stroke="#b3601a" stroke-width="1.1"/>
<circle cx="350.11" cy="272.46" r="2.6" fill="none" stroke="#b3601a" stroke-width="1.1"/>
<circle cx="360.06" cy="273.35" r="2.6" fill="none" stroke="#b3601a" stroke-width="1.1"/>
</g>
<polyline points="54.1,416.7 59.08,424.2 64.05,389.6 69.03,383 74,384.7 78.97,389.6 83.95,394.5 88.92,398.6 93.9,397.1 98.88,396.4 103.85,393 108.82,389.5 113.8,387.5 118.78,385.4 123.75,384 128.72,384.7 133.7,386.1 138.67,386.8 143.65,388.2 148.62,389.2 153.6,389.5 158.57,389.5 163.55,388.2 168.53,387.5 173.5,386.1 178.47,384 183.45,382.4 188.42,381.5 193.4,381.2 198.37,382.5 203.35,387.5 208.32,392.8 213.3,396.8 218.27,400.6 223.25,406.8 228.22,411.6 233.2,415.7 238.17,418.5 243.15,421.2 248.12,424 253.1,426.5 260.56,428.8 270.51,431.3 280.46,442.2 290.41,455.9 300.36,464.7 310.31,471 320.26,470.3 330.21,458.6 340.16,441.8 350.11,442.7 360.06,451.4" fill="none" stroke="#3a9c26" stroke-width="1.15" stroke-dasharray="2,2" clip-path="url(#cr)"/>
<g clip-path="url(#cr)">
<path d="M350.11 439.1V446.3M360.06 447.8V455" stroke="#3a9c26" stroke-width="1"/>
<rect x="51.4" y="414" width="5.4" height="5.4" fill="none" stroke="#3a9c26" stroke-width="1.1"/>
<rect x="56.38" y="421.5" width="5.4" height="5.4" fill="none" stroke="#3a9c26" stroke-width="1.1"/>
<rect x="61.35" y="386.9" width="5.4" height="5.4" fill="none" stroke="#3a9c26" stroke-width="1.1"/>
<rect x="66.33" y="380.3" width="5.4" height="5.4" fill="none" stroke="#3a9c26" stroke-width="1.1"/>
<rect x="71.3" y="382" width="5.4" height="5.4" fill="none" stroke="#3a9c26" stroke-width="1.1"/>
<rect x="76.27" y="386.9" width="5.4" height="5.4" fill="none" stroke="#3a9c26" stroke-width="1.1"/>
<rect x="81.25" y="391.8" width="5.4" height="5.4" fill="none" stroke="#3a9c26" stroke-width="1.1"/>
<rect x="86.22" y="395.9" width="5.4" height="5.4" fill="none" stroke="#3a9c26" stroke-width="1.1"/>
<rect x="91.2" y="394.4" width="5.4" height="5.4" fill="none" stroke="#3a9c26" stroke-width="1.1"/>
<rect x="96.17" y="393.7" width="5.4" height="5.4" fill="none" stroke="#3a9c26" stroke-width="1.1"/>
<rect x="101.15" y="390.3" width="5.4" height="5.4" fill="none" stroke="#3a9c26" stroke-width="1.1"/>
<rect x="106.12" y="386.8" width="5.4" height="5.4" fill="none" stroke="#3a9c26" stroke-width="1.1"/>
<rect x="111.1" y="384.8" width="5.4" height="5.4" fill="none" stroke="#3a9c26" stroke-width="1.1"/>
<rect x="116.08" y="382.7" width="5.4" height="5.4" fill="none" stroke="#3a9c26" stroke-width="1.1"/>
<rect x="121.05" y="381.3" width="5.4" height="5.4" fill="none" stroke="#3a9c26" stroke-width="1.1"/>
<rect x="126.02" y="382" width="5.4" height="5.4" fill="none" stroke="#3a9c26" stroke-width="1.1"/>
<rect x="131" y="383.4" width="5.4" height="5.4" fill="none" stroke="#3a9c26" stroke-width="1.1"/>
<rect x="135.97" y="384.1" width="5.4" height="5.4" fill="none" stroke="#3a9c26" stroke-width="1.1"/>
<rect x="140.95" y="385.5" width="5.4" height="5.4" fill="none" stroke="#3a9c26" stroke-width="1.1"/>
<rect x="145.93" y="386.5" width="5.4" height="5.4" fill="none" stroke="#3a9c26" stroke-width="1.1"/>
<rect x="150.9" y="386.8" width="5.4" height="5.4" fill="none" stroke="#3a9c26" stroke-width="1.1"/>
<rect x="155.88" y="386.8" width="5.4" height="5.4" fill="none" stroke="#3a9c26" stroke-width="1.1"/>
<rect x="160.85" y="385.5" width="5.4" height="5.4" fill="none" stroke="#3a9c26" stroke-width="1.1"/>
<rect x="165.83" y="384.8" width="5.4" height="5.4" fill="none" stroke="#3a9c26" stroke-width="1.1"/>
<rect x="170.8" y="383.4" width="5.4" height="5.4" fill="none" stroke="#3a9c26" stroke-width="1.1"/>
<rect x="175.78" y="381.3" width="5.4" height="5.4" fill="none" stroke="#3a9c26" stroke-width="1.1"/>
<rect x="180.75" y="379.7" width="5.4" height="5.4" fill="none" stroke="#3a9c26" stroke-width="1.1"/>
<rect x="185.72" y="378.8" width="5.4" height="5.4" fill="none" stroke="#3a9c26" stroke-width="1.1"/>
<rect x="190.7" y="378.5" width="5.4" height="5.4" fill="none" stroke="#3a9c26" stroke-width="1.1"/>
<rect x="195.67" y="379.8" width="5.4" height="5.4" fill="none" stroke="#3a9c26" stroke-width="1.1"/>
<rect x="200.65" y="384.8" width="5.4" height="5.4" fill="none" stroke="#3a9c26" stroke-width="1.1"/>
<rect x="205.62" y="390.1" width="5.4" height="5.4" fill="none" stroke="#3a9c26" stroke-width="1.1"/>
<rect x="210.6" y="394.1" width="5.4" height="5.4" fill="none" stroke="#3a9c26" stroke-width="1.1"/>
<rect x="215.57" y="397.9" width="5.4" height="5.4" fill="none" stroke="#3a9c26" stroke-width="1.1"/>
<rect x="220.55" y="404.1" width="5.4" height="5.4" fill="none" stroke="#3a9c26" stroke-width="1.1"/>
<rect x="225.53" y="408.9" width="5.4" height="5.4" fill="none" stroke="#3a9c26" stroke-width="1.1"/>
<rect x="230.5" y="413" width="5.4" height="5.4" fill="none" stroke="#3a9c26" stroke-width="1.1"/>
<rect x="235.47" y="415.8" width="5.4" height="5.4" fill="none" stroke="#3a9c26" stroke-width="1.1"/>
<rect x="240.45" y="418.5" width="5.4" height="5.4" fill="none" stroke="#3a9c26" stroke-width="1.1"/>
<rect x="245.42" y="421.3" width="5.4" height="5.4" fill="none" stroke="#3a9c26" stroke-width="1.1"/>
<rect x="250.4" y="423.8" width="5.4" height="5.4" fill="none" stroke="#3a9c26" stroke-width="1.1"/>
<rect x="257.86" y="426.1" width="5.4" height="5.4" fill="none" stroke="#3a9c26" stroke-width="1.1"/>
<rect x="267.81" y="428.6" width="5.4" height="5.4" fill="none" stroke="#3a9c26" stroke-width="1.1"/>
<rect x="277.76" y="439.5" width="5.4" height="5.4" fill="none" stroke="#3a9c26" stroke-width="1.1"/>
<rect x="287.71" y="453.2" width="5.4" height="5.4" fill="none" stroke="#3a9c26" stroke-width="1.1"/>
<rect x="297.66" y="462" width="5.4" height="5.4" fill="none" stroke="#3a9c26" stroke-width="1.1"/>
<rect x="307.61" y="468.3" width="5.4" height="5.4" fill="none" stroke="#3a9c26" stroke-width="1.1"/>
<rect x="317.56" y="467.6" width="5.4" height="5.4" fill="none" stroke="#3a9c26" stroke-width="1.1"/>
<rect x="327.51" y="455.9" width="5.4" height="5.4" fill="none" stroke="#3a9c26" stroke-width="1.1"/>
<rect x="337.46" y="439.1" width="5.4" height="5.4" fill="none" stroke="#3a9c26" stroke-width="1.1"/>
<rect x="347.41" y="440" width="5.4" height="5.4" fill="none" stroke="#3a9c26" stroke-width="1.1"/>
<rect x="357.36" y="448.7" width="5.4" height="5.4" fill="none" stroke="#3a9c26" stroke-width="1.1"/>
</g>
<polyline points="54.1,424 59.08,438 64.05,406.5 69.03,390.5 74,380.5 78.97,377.2 83.95,377.2 88.92,380.6 93.9,385.4 98.88,386.8 103.85,391 108.82,392.3 113.8,393.7 118.78,393.7 123.75,394.3 128.72,395 133.7,396.4 138.67,397.8 143.65,399.1 148.62,399.8 153.6,399.8 158.57,399.8 163.55,397.1 168.53,395 173.5,393 178.47,390.2 183.45,386.9 188.42,385.4 193.4,383.8 198.37,384.3 203.35,384.5 208.32,388 213.3,392.8 218.27,395.8 223.25,401.3 228.22,402 233.2,403.4 238.17,405.4 243.15,408.2 248.12,410.9 253.1,411.3 260.56,412.3 270.51,411.6 280.46,417.8 290.41,429.3 300.36,436.6 310.31,438 320.26,437.5 330.21,424.4 340.16,410.3 350.11,405.1 360.06,417.1" fill="none" stroke="#0000e6" stroke-width="1.15" clip-path="url(#cr)"/>
<g clip-path="url(#cr)">
<path d="M350.11 401.5V408.7M360.06 413.5V420.7" stroke="#0000e6" stroke-width="1"/>
<path d="M54.1 420.6L57.3 426.6L50.9 426.6Z" fill="#0000e6"/>
<path d="M59.08 434.6L62.28 440.6L55.88 440.6Z" fill="#0000e6"/>
<path d="M64.05 403.1L67.25 409.1L60.85 409.1Z" fill="#0000e6"/>
<path d="M69.03 387.1L72.23 393.1L65.83 393.1Z" fill="#0000e6"/>
<path d="M74 377.1L77.2 383.1L70.8 383.1Z" fill="#0000e6"/>
<path d="M78.97 373.8L82.17 379.8L75.77 379.8Z" fill="#0000e6"/>
<path d="M83.95 373.8L87.15 379.8L80.75 379.8Z" fill="#0000e6"/>
<path d="M88.92 377.2L92.12 383.2L85.72 383.2Z" fill="#0000e6"/>
<path d="M93.9 382L97.1 388L90.7 388Z" fill="#0000e6"/>
<path d="M98.88 383.4L102.08 389.4L95.67 389.4Z" fill="#0000e6"/>
<path d="M103.85 387.6L107.05 393.6L100.65 393.6Z" fill="#0000e6"/>
<path d="M108.82 388.9L112.02 394.9L105.62 394.9Z" fill="#0000e6"/>
<path d="M113.8 390.3L117 396.3L110.6 396.3Z" fill="#0000e6"/>
<path d="M118.78 390.3L121.98 396.3L115.58 396.3Z" fill="#0000e6"/>
<path d="M123.75 390.9L126.95 396.9L120.55 396.9Z" fill="#0000e6"/>
<path d="M128.72 391.6L131.92 397.6L125.52 397.6Z" fill="#0000e6"/>
<path d="M133.7 393L136.9 399L130.5 399Z" fill="#0000e6"/>
<path d="M138.67 394.4L141.87 400.4L135.47 400.4Z" fill="#0000e6"/>
<path d="M143.65 395.7L146.85 401.7L140.45 401.7Z" fill="#0000e6"/>
<path d="M148.62 396.4L151.82 402.4L145.43 402.4Z" fill="#0000e6"/>
<path d="M153.6 396.4L156.8 402.4L150.4 402.4Z" fill="#0000e6"/>
<path d="M158.57 396.4L161.77 402.4L155.38 402.4Z" fill="#0000e6"/>
<path d="M163.55 393.7L166.75 399.7L160.35 399.7Z" fill="#0000e6"/>
<path d="M168.53 391.6L171.72 397.6L165.33 397.6Z" fill="#0000e6"/>
<path d="M173.5 389.6L176.7 395.6L170.3 395.6Z" fill="#0000e6"/>
<path d="M178.47 386.8L181.67 392.8L175.28 392.8Z" fill="#0000e6"/>
<path d="M183.45 383.5L186.65 389.5L180.25 389.5Z" fill="#0000e6"/>
<path d="M188.42 382L191.62 388L185.22 388Z" fill="#0000e6"/>
<path d="M193.4 380.4L196.6 386.4L190.2 386.4Z" fill="#0000e6"/>
<path d="M198.37 380.9L201.57 386.9L195.17 386.9Z" fill="#0000e6"/>
<path d="M203.35 381.1L206.55 387.1L200.15 387.1Z" fill="#0000e6"/>
<path d="M208.32 384.6L211.52 390.6L205.12 390.6Z" fill="#0000e6"/>
<path d="M213.3 389.4L216.5 395.4L210.1 395.4Z" fill="#0000e6"/>
<path d="M218.27 392.4L221.47 398.4L215.07 398.4Z" fill="#0000e6"/>
<path d="M223.25 397.9L226.45 403.9L220.05 403.9Z" fill="#0000e6"/>
<path d="M228.22 398.6L231.42 404.6L225.03 404.6Z" fill="#0000e6"/>
<path d="M233.2 400L236.4 406L230 406Z" fill="#0000e6"/>
<path d="M238.17 402L241.37 408L234.97 408Z" fill="#0000e6"/>
<path d="M243.15 404.8L246.35 410.8L239.95 410.8Z" fill="#0000e6"/>
<path d="M248.12 407.5L251.32 413.5L244.92 413.5Z" fill="#0000e6"/>
<path d="M253.1 407.9L256.3 413.9L249.9 413.9Z" fill="#0000e6"/>
<path d="M260.56 408.9L263.76 414.9L257.36 414.9Z" fill="#0000e6"/>
<path d="M270.51 408.2L273.71 414.2L267.31 414.2Z" fill="#0000e6"/>
<path d="M280.46 414.4L283.66 420.4L277.26 420.4Z" fill="#0000e6"/>
<path d="M290.41 425.9L293.61 431.9L287.21 431.9Z" fill="#0000e6"/>
<path d="M300.36 433.2L303.56 439.2L297.16 439.2Z" fill="#0000e6"/>
<path d="M310.31 434.6L313.51 440.6L307.11 440.6Z" fill="#0000e6"/>
<path d="M320.26 434.1L323.46 440.1L317.06 440.1Z" fill="#0000e6"/>
<path d="M330.21 421L333.41 427L327.01 427Z" fill="#0000e6"/>
<path d="M340.16 406.9L343.36 412.9L336.96 412.9Z" fill="#0000e6"/>
<path d="M350.11 401.7L353.31 407.7L346.91 407.7Z" fill="#0000e6"/>
<path d="M360.06 413.7L363.26 419.7L356.86 419.7Z" fill="#0000e6"/>
</g>
<polyline points="54.1,423 59.08,412.4 64.05,379.6 69.03,365 74,360 78.97,361.1 83.95,365 88.92,372 93.9,381.5 98.88,388.8 103.85,392.3 108.82,399.8 113.8,402 118.78,404.3 123.75,407.4 128.72,408.7 133.7,410.1 138.67,411.5 143.65,412.2 148.62,414.2 153.6,415.6 158.57,416.3 163.55,417 168.53,417 173.5,416.3 178.47,415.6 183.45,414.2 188.42,412.9 193.4,414.9 198.37,418.7 203.35,422.6 208.32,428.5 213.3,432.5 218.27,440.1 223.25,444.2 228.22,450.4 233.2,455.2 238.17,458 243.15,463.5 248.12,467.2 253.1,469.6 260.56,473.8 270.51,482.41 280.46,493.6 290.41,507.47 300.36,521.8 310.31,529.86 320.26,521.8 330.21,520.01 340.16,514.19 350.11,500.76 360.06,532.54" fill="none" stroke="#1898c0" stroke-width="1.15" stroke-dasharray="4,1.5,1,1.5" clip-path="url(#cr)"/>
<g clip-path="url(#cr)">
<path d="M350.11 497.16V504.36M360.06 528.94V536.14" stroke="#1898c0" stroke-width="1"/>
<path d="M54.1 426.4L57.3 420.4L50.9 420.4Z" fill="#1898c0"/>
<path d="M59.08 415.8L62.28 409.8L55.88 409.8Z" fill="#1898c0"/>
<path d="M64.05 383L67.25 377L60.85 377Z" fill="#1898c0"/>
<path d="M69.03 368.4L72.23 362.4L65.83 362.4Z" fill="#1898c0"/>
<path d="M74 363.4L77.2 357.4L70.8 357.4Z" fill="#1898c0"/>
<path d="M78.97 364.5L82.17 358.5L75.77 358.5Z" fill="#1898c0"/>
<path d="M83.95 368.4L87.15 362.4L80.75 362.4Z" fill="#1898c0"/>
<path d="M88.92 375.4L92.12 369.4L85.72 369.4Z" fill="#1898c0"/>
<path d="M93.9 384.9L97.1 378.9L90.7 378.9Z" fill="#1898c0"/>
<path d="M98.88 392.2L102.08 386.2L95.67 386.2Z" fill="#1898c0"/>
<path d="M103.85 395.7L107.05 389.7L100.65 389.7Z" fill="#1898c0"/>
<path d="M108.82 403.2L112.02 397.2L105.62 397.2Z" fill="#1898c0"/>
<path d="M113.8 405.4L117 399.4L110.6 399.4Z" fill="#1898c0"/>
<path d="M118.78 407.7L121.98 401.7L115.58 401.7Z" fill="#1898c0"/>
<path d="M123.75 410.8L126.95 404.8L120.55 404.8Z" fill="#1898c0"/>
<path d="M128.72 412.1L131.92 406.1L125.52 406.1Z" fill="#1898c0"/>
<path d="M133.7 413.5L136.9 407.5L130.5 407.5Z" fill="#1898c0"/>
<path d="M138.67 414.9L141.87 408.9L135.47 408.9Z" fill="#1898c0"/>
<path d="M143.65 415.6L146.85 409.6L140.45 409.6Z" fill="#1898c0"/>
<path d="M148.62 417.6L151.82 411.6L145.43 411.6Z" fill="#1898c0"/>
<path d="M153.6 419L156.8 413L150.4 413Z" fill="#1898c0"/>
<path d="M158.57 419.7L161.77 413.7L155.38 413.7Z" fill="#1898c0"/>
<path d="M163.55 420.4L166.75 414.4L160.35 414.4Z" fill="#1898c0"/>
<path d="M168.53 420.4L171.72 414.4L165.33 414.4Z" fill="#1898c0"/>
<path d="M173.5 419.7L176.7 413.7L170.3 413.7Z" fill="#1898c0"/>
<path d="M178.47 419L181.67 413L175.28 413Z" fill="#1898c0"/>
<path d="M183.45 417.6L186.65 411.6L180.25 411.6Z" fill="#1898c0"/>
<path d="M188.42 416.3L191.62 410.3L185.22 410.3Z" fill="#1898c0"/>
<path d="M193.4 418.3L196.6 412.3L190.2 412.3Z" fill="#1898c0"/>
<path d="M198.37 422.1L201.57 416.1L195.17 416.1Z" fill="#1898c0"/>
<path d="M203.35 426L206.55 420L200.15 420Z" fill="#1898c0"/>
<path d="M208.32 431.9L211.52 425.9L205.12 425.9Z" fill="#1898c0"/>
<path d="M213.3 435.9L216.5 429.9L210.1 429.9Z" fill="#1898c0"/>
<path d="M218.27 443.5L221.47 437.5L215.07 437.5Z" fill="#1898c0"/>
<path d="M223.25 447.6L226.45 441.6L220.05 441.6Z" fill="#1898c0"/>
<path d="M228.22 453.8L231.42 447.8L225.03 447.8Z" fill="#1898c0"/>
<path d="M233.2 458.6L236.4 452.6L230 452.6Z" fill="#1898c0"/>
<path d="M238.17 461.4L241.37 455.4L234.97 455.4Z" fill="#1898c0"/>
<path d="M243.15 466.9L246.35 460.9L239.95 460.9Z" fill="#1898c0"/>
<path d="M248.12 470.6L251.32 464.6L244.92 464.6Z" fill="#1898c0"/>
<path d="M253.1 473L256.3 467L249.9 467Z" fill="#1898c0"/>
<path d="M260.56 477.2L263.76 471.2L257.36 471.2Z" fill="#1898c0"/>
<path d="M270.51 485.81L273.71 479.81L267.31 479.81Z" fill="#1898c0"/>
<path d="M280.46 497L283.66 491L277.26 491Z" fill="#1898c0"/>
<path d="M290.41 510.87L293.61 504.87L287.21 504.87Z" fill="#1898c0"/>
<path d="M300.36 525.2L303.56 519.2L297.16 519.2Z" fill="#1898c0"/>
<path d="M310.31 533.26L313.51 527.26L307.11 527.26Z" fill="#1898c0"/>
<path d="M320.26 525.2L323.46 519.2L317.06 519.2Z" fill="#1898c0"/>
<path d="M330.21 523.41L333.41 517.41L327.01 517.41Z" fill="#1898c0"/>
<path d="M340.16 517.59L343.36 511.59L336.96 511.59Z" fill="#1898c0"/>
<path d="M350.11 504.16L353.31 498.16L346.91 498.16Z" fill="#1898c0"/>
<path d="M360.06 535.94L363.26 529.94L356.86 529.94Z" fill="#1898c0"/>
</g>
<polyline points="54.1,581.78 59.08,438.1 64.05,380.8 69.03,362.3 74,356.6 78.97,357.8 83.95,361.4 88.92,366.1 93.9,371.3 98.88,379.9 103.85,386.8 108.82,395 113.8,399.1 118.78,401.2 123.75,406 128.72,406.7 133.7,406.7 138.67,406.7 143.65,410.1 148.62,407.4 153.6,406.7 158.57,406 163.55,402.6 168.53,400.5 173.5,395 178.47,389.7 183.45,387.7 188.42,382.2 193.4,379.5 198.37,379 203.35,374.4 208.32,378.8 213.3,372.6 218.27,379.5 223.25,374 228.22,376 233.2,374 238.17,374.6 243.15,365 248.12,367.1 253.1,367.1 260.56,356.8 270.51,345.8 280.46,343 290.41,340.3 300.36,340 310.31,325.7 320.26,310.5 330.21,280.96 340.16,262.16 350.11,238.88 360.06,248.28" fill="none" stroke="#ff0000" stroke-width="1.15" stroke-dasharray="1,1" clip-path="url(#cr)"/>
<g clip-path="url(#cr)">
<path d="M350.11 235.28V242.48M360.06 244.68V251.88" stroke="#ff0000" stroke-width="1"/>
<path d="M54.1 578.38L56.2 581.78L54.1 585.18L52 581.78Z" fill="#ff0000"/>
<path d="M59.08 434.7L61.18 438.1L59.08 441.5L56.98 438.1Z" fill="#ff0000"/>
<path d="M64.05 377.4L66.15 380.8L64.05 384.2L61.95 380.8Z" fill="#ff0000"/>
<path d="M69.03 358.9L71.12 362.3L69.03 365.7L66.93 362.3Z" fill="#ff0000"/>
<path d="M74 353.2L76.1 356.6L74 360L71.9 356.6Z" fill="#ff0000"/>
<path d="M78.97 354.4L81.07 357.8L78.97 361.2L76.88 357.8Z" fill="#ff0000"/>
<path d="M83.95 358L86.05 361.4L83.95 364.8L81.85 361.4Z" fill="#ff0000"/>
<path d="M88.92 362.7L91.02 366.1L88.92 369.5L86.83 366.1Z" fill="#ff0000"/>
<path d="M93.9 367.9L96 371.3L93.9 374.7L91.8 371.3Z" fill="#ff0000"/>
<path d="M98.88 376.5L100.97 379.9L98.88 383.3L96.78 379.9Z" fill="#ff0000"/>
<path d="M103.85 383.4L105.95 386.8L103.85 390.2L101.75 386.8Z" fill="#ff0000"/>
<path d="M108.82 391.6L110.92 395L108.82 398.4L106.72 395Z" fill="#ff0000"/>
<path d="M113.8 395.7L115.9 399.1L113.8 402.5L111.7 399.1Z" fill="#ff0000"/>
<path d="M118.78 397.8L120.88 401.2L118.78 404.6L116.68 401.2Z" fill="#ff0000"/>
<path d="M123.75 402.6L125.85 406L123.75 409.4L121.65 406Z" fill="#ff0000"/>
<path d="M128.72 403.3L130.82 406.7L128.72 410.1L126.62 406.7Z" fill="#ff0000"/>
<path d="M133.7 403.3L135.8 406.7L133.7 410.1L131.6 406.7Z" fill="#ff0000"/>
<path d="M138.67 403.3L140.77 406.7L138.67 410.1L136.57 406.7Z" fill="#ff0000"/>
<path d="M143.65 406.7L145.75 410.1L143.65 413.5L141.55 410.1Z" fill="#ff0000"/>
<path d="M148.62 404L150.72 407.4L148.62 410.8L146.53 407.4Z" fill="#ff0000"/>
<path d="M153.6 403.3L155.7 406.7L153.6 410.1L151.5 406.7Z" fill="#ff0000"/>
<path d="M158.57 402.6L160.67 406L158.57 409.4L156.47 406Z" fill="#ff0000"/>
<path d="M163.55 399.2L165.65 402.6L163.55 406L161.45 402.6Z" fill="#ff0000"/>
<path d="M168.53 397.1L170.62 400.5L168.53 403.9L166.43 400.5Z" fill="#ff0000"/>
<path d="M173.5 391.6L175.6 395L173.5 398.4L171.4 395Z" fill="#ff0000"/>
<path d="M178.47 386.3L180.57 389.7L178.47 393.1L176.38 389.7Z" fill="#ff0000"/>
<path d="M183.45 384.3L185.55 387.7L183.45 391.1L181.35 387.7Z" fill="#ff0000"/>
<path d="M188.42 378.8L190.52 382.2L188.42 385.6L186.32 382.2Z" fill="#ff0000"/>
<path d="M193.4 376.1L195.5 379.5L193.4 382.9L191.3 379.5Z" fill="#ff0000"/>
<path d="M198.37 375.6L200.47 379L198.37 382.4L196.27 379Z" fill="#ff0000"/>
<path d="M203.35 371L205.45 374.4L203.35 377.8L201.25 374.4Z" fill="#ff0000"/>
<path d="M208.32 375.4L210.42 378.8L208.32 382.2L206.22 378.8Z" fill="#ff0000"/>
<path d="M213.3 369.2L215.4 372.6L213.3 376L211.2 372.6Z" fill="#ff0000"/>
<path d="M218.27 376.1L220.37 379.5L218.27 382.9L216.17 379.5Z" fill="#ff0000"/>
<path d="M223.25 370.6L225.35 374L223.25 377.4L221.15 374Z" fill="#ff0000"/>
<path d="M228.22 372.6L230.32 376L228.22 379.4L226.12 376Z" fill="#ff0000"/>
<path d="M233.2 370.6L235.3 374L233.2 377.4L231.1 374Z" fill="#ff0000"/>
<path d="M238.17 371.2L240.27 374.6L238.17 378L236.07 374.6Z" fill="#ff0000"/>
<path d="M243.15 361.6L245.25 365L243.15 368.4L241.05 365Z" fill="#ff0000"/>
<path d="M248.12 363.7L250.22 367.1L248.12 370.5L246.02 367.1Z" fill="#ff0000"/>
<path d="M253.1 363.7L255.2 367.1L253.1 370.5L251 367.1Z" fill="#ff0000"/>
<path d="M260.56 353.4L262.66 356.8L260.56 360.2L258.46 356.8Z" fill="#ff0000"/>
<path d="M270.51 342.4L272.61 345.8L270.51 349.2L268.41 345.8Z" fill="#ff0000"/>
<path d="M280.46 339.6L282.56 343L280.46 346.4L278.36 343Z" fill="#ff0000"/>
<path d="M290.41 336.9L292.51 340.3L290.41 343.7L288.31 340.3Z" fill="#ff0000"/>
<path d="M300.36 336.6L302.46 340L300.36 343.4L298.26 340Z" fill="#ff0000"/>
<path d="M310.31 322.3L312.41 325.7L310.31 329.1L308.21 325.7Z" fill="#ff0000"/>
<path d="M320.26 307.1L322.36 310.5L320.26 313.9L318.16 310.5Z" fill="#ff0000"/>
<path d="M330.21 277.56L332.31 280.96L330.21 284.36L328.11 280.96Z" fill="#ff0000"/>
<path d="M340.16 258.76L342.26 262.16L340.16 265.56L338.06 262.16Z" fill="#ff0000"/>
<path d="M350.11 235.48L352.21 238.88L350.11 242.28L348.01 238.88Z" fill="#ff0000"/>
<path d="M360.06 244.88L362.16 248.28L360.06 251.68L357.96 248.28Z" fill="#ff0000"/>
</g>
<path d="M45.5 17.5H371.2V477.6H45.5Z M45.5 317.5H371.2 M54.1 17.5V25.5 M54.1 317.5V309.5 M54.1 317.5V322.5 M54.1 477.6V472.6 M78.97 17.5V21.5 M78.97 317.5V313.5 M78.97 317.5V320 M78.97 477.6V475.1 M103.85 17.5V21.5 M103.85 317.5V313.5 M103.85 317.5V320 M103.85 477.6V475.1 M128.72 17.5V21.5 M128.72 317.5V313.5 M128.72 317.5V320 M128.72 477.6V475.1 M153.6 17.5V25.5 M153.6 317.5V309.5 M153.6 317.5V322.5 M153.6 477.6V472.6 M178.47 17.5V21.5 M178.47 317.5V313.5 M178.47 317.5V320 M178.47 477.6V475.1 M203.35 17.5V21.5 M203.35 317.5V313.5 M203.35 317.5V320 M203.35 477.6V475.1 M228.22 17.5V21.5 M228.22 317.5V313.5 M228.22 317.5V320 M228.22 477.6V475.1 M253.1 17.5V25.5 M253.1 317.5V309.5 M253.1 317.5V322.5 M253.1 477.6V472.6 M277.97 17.5V21.5 M277.97 317.5V313.5 M277.97 317.5V320 M277.97 477.6V475.1 M302.85 17.5V21.5 M302.85 317.5V313.5 M302.85 317.5V320 M302.85 477.6V475.1 M327.73 17.5V21.5 M327.73 317.5V313.5 M327.73 317.5V320 M327.73 477.6V475.1 M352.6 17.5V25.5 M352.6 317.5V309.5 M352.6 317.5V322.5 M352.6 477.6V472.6 M45.5 312.12H51 M371.2 312.12H365.7 M45.5 307.76H51 M371.2 307.76H365.7 M45.5 304.2H51 M371.2 304.2H365.7 M45.5 301.19H51 M371.2 301.19H365.7 M45.5 298.58H51 M371.2 298.58H365.7 M45.5 296.28H51 M371.2 296.28H365.7 M45.5 294.22H56.5 M371.2 294.22H360.2 M45.5 280.68H51 M371.2 280.68H365.7 M45.5 272.76H51 M371.2 272.76H365.7 M45.5 267.15H51 M371.2 267.15H365.7 M45.5 262.79H51 M371.2 262.79H365.7 M45.5 259.23H51 M371.2 259.23H365.7 M45.5 256.22H51 M371.2 256.22H365.7 M45.5 253.61H51 M371.2 253.61H365.7 M45.5 251.31H51 M371.2 251.31H365.7 M45.5 249.25H56.5 M371.2 249.25H360.2 M45.5 235.71H51 M371.2 235.71H365.7 M45.5 227.79H51 M371.2 227.79H365.7 M45.5 222.18H51 M371.2 222.18H365.7 M45.5 217.82H51 M371.2 217.82H365.7 M45.5 214.26H51 M371.2 214.26H365.7 M45.5 211.25H51 M371.2 211.25H365.7 M45.5 208.64H51 M371.2 208.64H365.7 M45.5 206.34H51 M371.2 206.34H365.7 M45.5 204.28H56.5 M371.2 204.28H360.2 M45.5 190.74H51 M371.2 190.74H365.7 M45.5 182.82H51 M371.2 182.82H365.7 M45.5 177.21H51 M371.2 177.21H365.7 M45.5 172.85H51 M371.2 172.85H365.7 M45.5 169.29H51 M371.2 169.29H365.7 M45.5 166.28H51 M371.2 166.28H365.7 M45.5 163.67H51 M371.2 163.67H365.7 M45.5 161.37H51 M371.2 161.37H365.7 M45.5 159.31H56.5 M371.2 159.31H360.2 M45.5 145.77H51 M371.2 145.77H365.7 M45.5 137.85H51 M371.2 137.85H365.7 M45.5 132.24H51 M371.2 132.24H365.7 M45.5 127.88H51 M371.2 127.88H365.7 M45.5 124.32H51 M371.2 124.32H365.7 M45.5 121.31H51 M371.2 121.31H365.7 M45.5 118.7H51 M371.2 118.7H365.7 M45.5 116.4H51 M371.2 116.4H365.7 M45.5 114.34H56.5 M371.2 114.34H360.2 M45.5 100.8H51 M371.2 100.8H365.7 M45.5 92.88H51 M371.2 92.88H365.7 M45.5 87.27H51 M371.2 87.27H365.7 M45.5 82.91H51 M371.2 82.91H365.7 M45.5 79.35H51 M371.2 79.35H365.7 M45.5 76.34H51 M371.2 76.34H365.7 M45.5 73.73H51 M371.2 73.73H365.7 M45.5 71.43H51 M371.2 71.43H365.7 M45.5 69.37H56.5 M371.2 69.37H360.2 M45.5 55.83H51 M371.2 55.83H365.7 M45.5 47.91H51 M371.2 47.91H365.7 M45.5 42.3H51 M371.2 42.3H365.7 M45.5 37.94H51 M371.2 37.94H365.7 M45.5 34.38H51 M371.2 34.38H365.7 M45.5 31.37H51 M371.2 31.37H365.7 M45.5 28.76H51 M371.2 28.76H365.7 M45.5 26.46H51 M371.2 26.46H365.7 M45.5 24.4H56.5 M371.2 24.4H360.2 M45.5 458.4H52.5 M371.2 458.4H364.2 M45.5 442.46H51 M371.2 442.46H365.7 M45.5 428.98H51 M371.2 428.98H365.7 M45.5 417.31H51 M371.2 417.31H365.7 M45.5 407.01H51 M371.2 407.01H365.7 M45.5 397.8H52.5 M371.2 397.8H364.2 M45.5 389.47H51 M371.2 389.47H365.7 M45.5 381.86H51 M371.2 381.86H365.7 M45.5 374.86H51 M371.2 374.86H365.7 M45.5 368.38H51 M371.2 368.38H365.7 M45.5 362.35H51 M371.2 362.35H365.7 M45.5 356.71H51 M371.2 356.71H365.7 M45.5 351.41H51 M371.2 351.41H365.7 M45.5 346.41H51 M371.2 346.41H365.7 M45.5 341.68H51 M371.2 341.68H365.7 M45.5 337.2H52.5 M371.2 337.2H364.2 M45.5 332.93H51 M371.2 332.93H365.7 M45.5 328.87H51 M371.2 328.87H365.7 M45.5 324.98H51 M371.2 324.98H365.7 M45.5 321.26H51 M371.2 321.26H365.7" fill="none" stroke="#000" stroke-width="1.1"/>
<text x="51.2" y="13.8" font-size="12" text-anchor="start" fill="#000">2360 GeV pp</text>
<text x="366.4" y="13.8" font-size="12" text-anchor="end" fill="#000">Soft QCD</text>
<text x="80.6" y="43" font-size="12" text-anchor="start" fill="#000">Charged multiplicity,</text>
<text x="193" y="43" font-size="12" text-anchor="start" fill="#000">&#951;</text>
<text x="193.2" y="43" font-size="12" text-anchor="start" fill="#000">|</text>
<text x="200.3" y="43" font-size="12" text-anchor="start" fill="#000">|&lt;1.3 ,&#8730;s=2.36 TeV (INEL)</text>
<line x1="238.6" y1="34.4" x2="243.6" y2="34.4" stroke="#000" stroke-width="0.8"/>
<text x="26.4" y="29.1" font-size="11.3" text-anchor="start" fill="#000">10</text>
<text x="34.9" y="73.7" font-size="11.3" text-anchor="start" fill="#000">1</text>
<text x="20.7" y="119.94" font-size="11.3" text-anchor="start" fill="#000">10</text>
<text x="32.5" y="114.44" font-size="7" text-anchor="start" fill="#000">&#8722;1</text>
<text x="18.6" y="164.91" font-size="11.3" text-anchor="start" fill="#000">10</text>
<text x="30.8" y="159.41" font-size="7" text-anchor="start" fill="#000">&#8722;2</text>
<text x="18.8" y="209.88" font-size="11.3" text-anchor="start" fill="#000">10</text>
<text x="30.6" y="204.38" font-size="7" text-anchor="start" fill="#000">&#8722;3</text>
<text x="18.8" y="254.85" font-size="11.3" text-anchor="start" fill="#000">10</text>
<text x="30.6" y="249.35" font-size="7" text-anchor="start" fill="#000">&#8722;4</text>
<text x="18.8" y="299.82" font-size="11.3" text-anchor="start" fill="#000">10</text>
<text x="30.6" y="294.32" font-size="7" text-anchor="start" fill="#000">&#8722;5</text>
<text x="38.3" y="341.3" font-size="11.5" text-anchor="end" fill="#000">2</text>
<text x="373.4" y="341.3" font-size="11.5" text-anchor="start" fill="#000">2</text>
<text x="38.3" y="401.9" font-size="11.5" text-anchor="end" fill="#000">1</text>
<text x="373.4" y="401.9" font-size="11.5" text-anchor="start" fill="#000">1</text>
<text x="38.3" y="462.5" font-size="11.5" text-anchor="end" fill="#000">0.5</text>
<text x="373.4" y="462.5" font-size="11.5" text-anchor="start" fill="#000">0.5</text>
<text x="54.1" y="489.3" font-size="11.5" text-anchor="middle" fill="#000">0</text>
<text x="153.6" y="489.3" font-size="11.5" text-anchor="middle" fill="#000">20</text>
<text x="253.1" y="489.3" font-size="11.5" text-anchor="middle" fill="#000">40</text>
<text x="352.6" y="489.3" font-size="11.5" text-anchor="middle" fill="#000">60</text>
<text x="354.5" y="502.4" font-size="12">N<tspan font-size="7.5" dy="3.4" letter-spacing="-0.3">ch</tspan></text>
<text transform="translate(15,59.5) rotate(-90)" font-size="12">dN/dN<tspan font-size="7.5" dy="3.2" letter-spacing="-0.3">ch</tspan></text>
<text transform="translate(18.6,423) rotate(-90)" font-size="8.8">Ratio to ALICE</text>
<text transform="translate(380.6,126.6) rotate(-90)" font-size="10.2" textLength="108" lengthAdjust="spacingAndGlyphs" fill="#777">Rivet 4.1.0, &#8805; 800k events</text>
<text transform="translate(381,313.4) rotate(-90)" font-size="10.2" textLength="146.5" lengthAdjust="spacingAndGlyphs" fill="#777">mcplots.cern.ch [arXiv:2401.10621]</text>
<text x="166.8" y="301.6" font-size="7.9" text-anchor="start" fill="#b0b0b0">(ALICE_2010_I852450)</text>
<rect x="73.6" y="208.4" width="5.6" height="5.6" fill="#000"/>
<text x="94.2" y="213.7" font-size="9.3" text-anchor="start" fill="#000">ALICE</text>
<line x1="63.9" y1="223.48" x2="88.5" y2="223.48" stroke="#b3601a" stroke-width="1" stroke-dasharray="2.3,1.9"/>
<circle cx="76.4" cy="223.48" r="2.6" fill="none" stroke="#b3601a" stroke-width="1.1"/>
<text x="94.2" y="226.78" font-size="9.3" text-anchor="start" fill="#000">Herwig++ 2.7.1 default</text>
<line x1="63.9" y1="236.56" x2="88.5" y2="236.56" stroke="#3a9c26" stroke-width="1" stroke-dasharray="2,2"/>
<rect x="73.7" y="233.86" width="5.4" height="5.4" fill="none" stroke="#3a9c26" stroke-width="1.1"/>
<text x="94.2" y="239.86" font-size="9.3" text-anchor="start" fill="#000">Herwig 7.2.1 default</text>
<line x1="63.9" y1="249.64" x2="88.5" y2="249.64" stroke="#0000e6" stroke-width="1"/>
<path d="M76.4 246.24L79.6 252.24L73.2 252.24Z" fill="#0000e6"/>
<text x="94.2" y="252.94" font-size="9.3" text-anchor="start" fill="#000">Pythia 8.315 default</text>
<line x1="63.9" y1="262.72" x2="88.5" y2="262.72" stroke="#1898c0" stroke-width="1" stroke-dasharray="4,1.5,1,1.5"/>
<path d="M76.4 266.12L79.6 260.12L73.2 260.12Z" fill="#1898c0"/>
<text x="94.2" y="266.02" font-size="9.3" text-anchor="start" fill="#000">Pythia 8.315 vincia-default</text>
<line x1="63.9" y1="275.8" x2="88.5" y2="275.8" stroke="#ff0000" stroke-width="1" stroke-dasharray="1,1"/>
<path d="M76.4 272.4L78.5 275.8L76.4 279.2L74.3 275.8Z" fill="#ff0000"/>
<text x="94.2" y="279.1" font-size="9.3" text-anchor="start" fill="#000">Sherpa 1.4.5 default</text>
</svg></body></html>
